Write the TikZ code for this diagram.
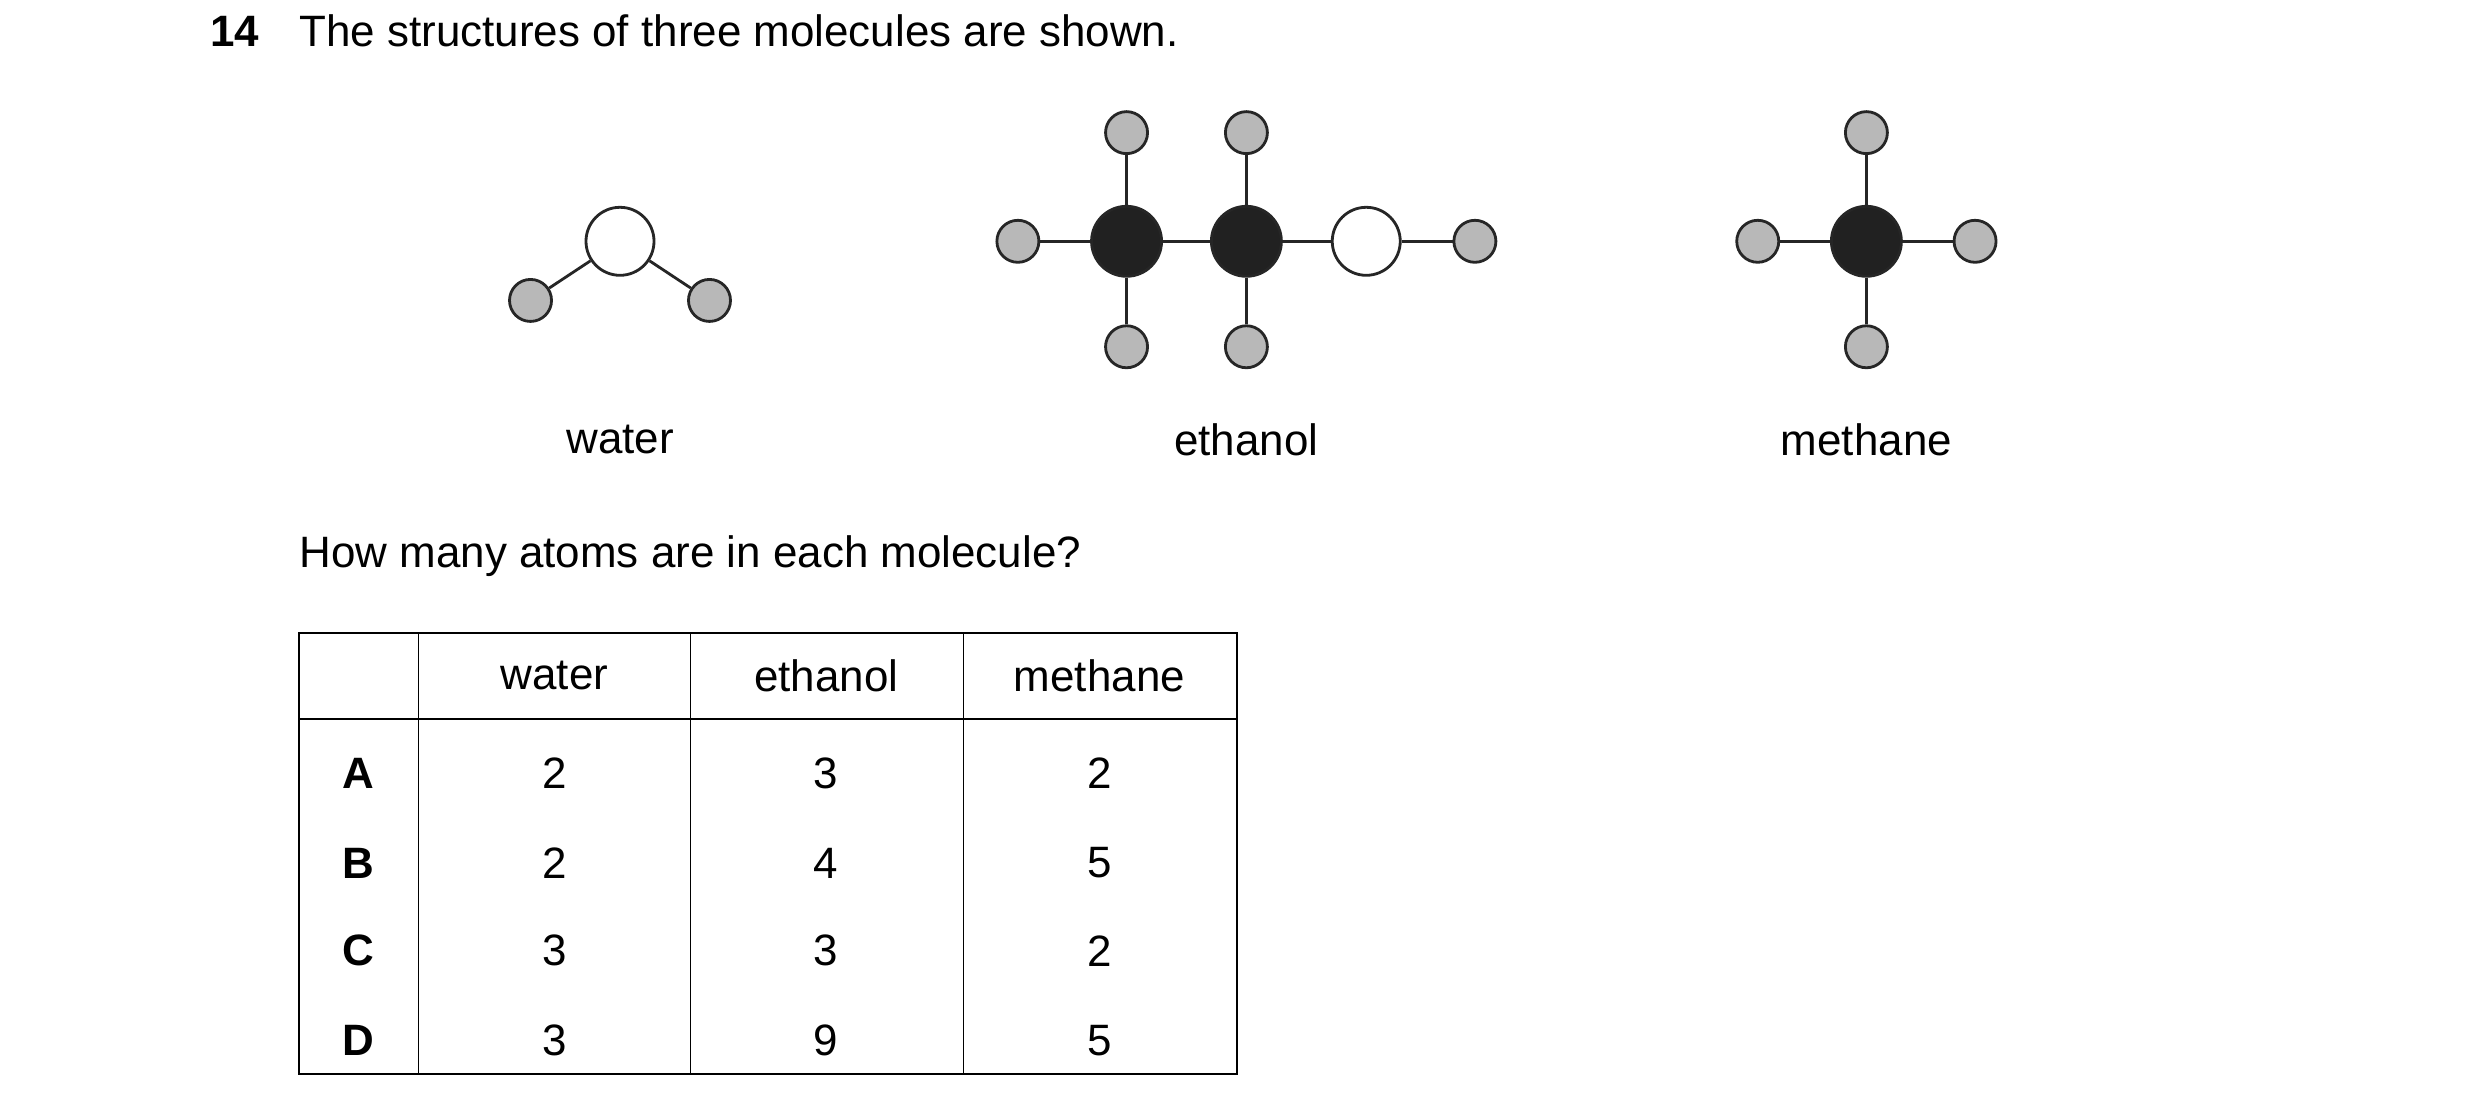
\documentclass[tikz,border=0pt]{standalone}
\usepackage{fontspec}
\setmainfont{Liberation Sans}
\tikzset{
  hyd/.style={circle, draw=black!85, thick, fill=black!28, minimum size=0.42cm, inner sep=0pt},
  carb/.style={circle, draw=black!85, thick, fill=black!87, minimum size=0.7cm, inner sep=0pt},
  oxy/.style={circle, draw=black!85, thick, fill=white, minimum size=0.68cm, inner sep=0pt},
  bond/.style={thick, black!85},
  txt/.style={font=\fontsize{12.5}{15}\selectfont, inner sep=0pt}
}
\begin{document}
\begin{tikzpicture}[x=0.01598cm, y=-0.01598cm]
\useasboundingbox (0,0) rectangle (1552,691);

\node[txt, anchor=base west] (num) at (131,29) {\textbf{14}};
\node[txt, anchor=base west] (title) at (187,29) {The structures of three molecules are shown.};

% water
\node[oxy] (wo) at (388,151) {};
\node[hyd] (wh1) at (332,188) {};
\node[hyd] (wh2) at (444,188) {};
\draw[bond] (wo) -- (wh1);
\draw[bond] (wo) -- (wh2);
\node[txt] (wl) at (388,275) {water};

% ethanol
\node[hyd] (eh1) at (637,151) {};
\node[carb] (ec1) at (705,151) {};
\node[carb] (ec2) at (780,151) {};
\node[oxy] (eo) at (855,151) {};
\node[hyd] (eh2) at (923,151) {};
\node[hyd] (eh3) at (705,83) {};
\node[hyd] (eh4) at (780,83) {};
\node[hyd] (eh5) at (705,217) {};
\node[hyd] (eh6) at (780,217) {};
\draw[bond] (eh1) -- (ec1) -- (ec2) -- (eo) -- (eh2);
\draw[bond] (eh3) -- (ec1) -- (eh5);
\draw[bond] (eh4) -- (ec2) -- (eh6);
\node[txt] (el) at (780,275) {ethanol};

% methane
\node[carb] (mc) at (1168,151) {};
\node[hyd] (mh1) at (1100,151) {};
\node[hyd] (mh2) at (1236,151) {};
\node[hyd] (mh3) at (1168,83) {};
\node[hyd] (mh4) at (1168,217) {};
\draw[bond] (mh1) -- (mc) -- (mh2);
\draw[bond] (mh3) -- (mc) -- (mh4);
\node[txt] (ml) at (1168,275) {methane};

\node[txt, anchor=base west] (ques) at (187,355) {How many atoms are in each molecule?};

% table
\draw[thin] (187,396) rectangle (774,672);
\draw[thin] (187,450) -- (774,450);
\foreach \x in {262,432,603} \draw[thin] (\x,396) -- (\x,672);
\node[txt] at (347,423) {water};
\node[txt] at (517,423) {ethanol};
\node[txt] at (688,423) {methane};
\foreach \r/\y/\a/\b/\c in {A/484/2/3/2, B/540/2/4/5, C/595/3/3/2, D/651/3/9/5} {
  \node[txt] at (224,\y) {\textbf{\r}};
  \node[txt] at (347,\y) {\a};
  \node[txt] at (517,\y) {\b};
  \node[txt] at (688,\y) {\c};
}
\end{tikzpicture}
\end{document}
